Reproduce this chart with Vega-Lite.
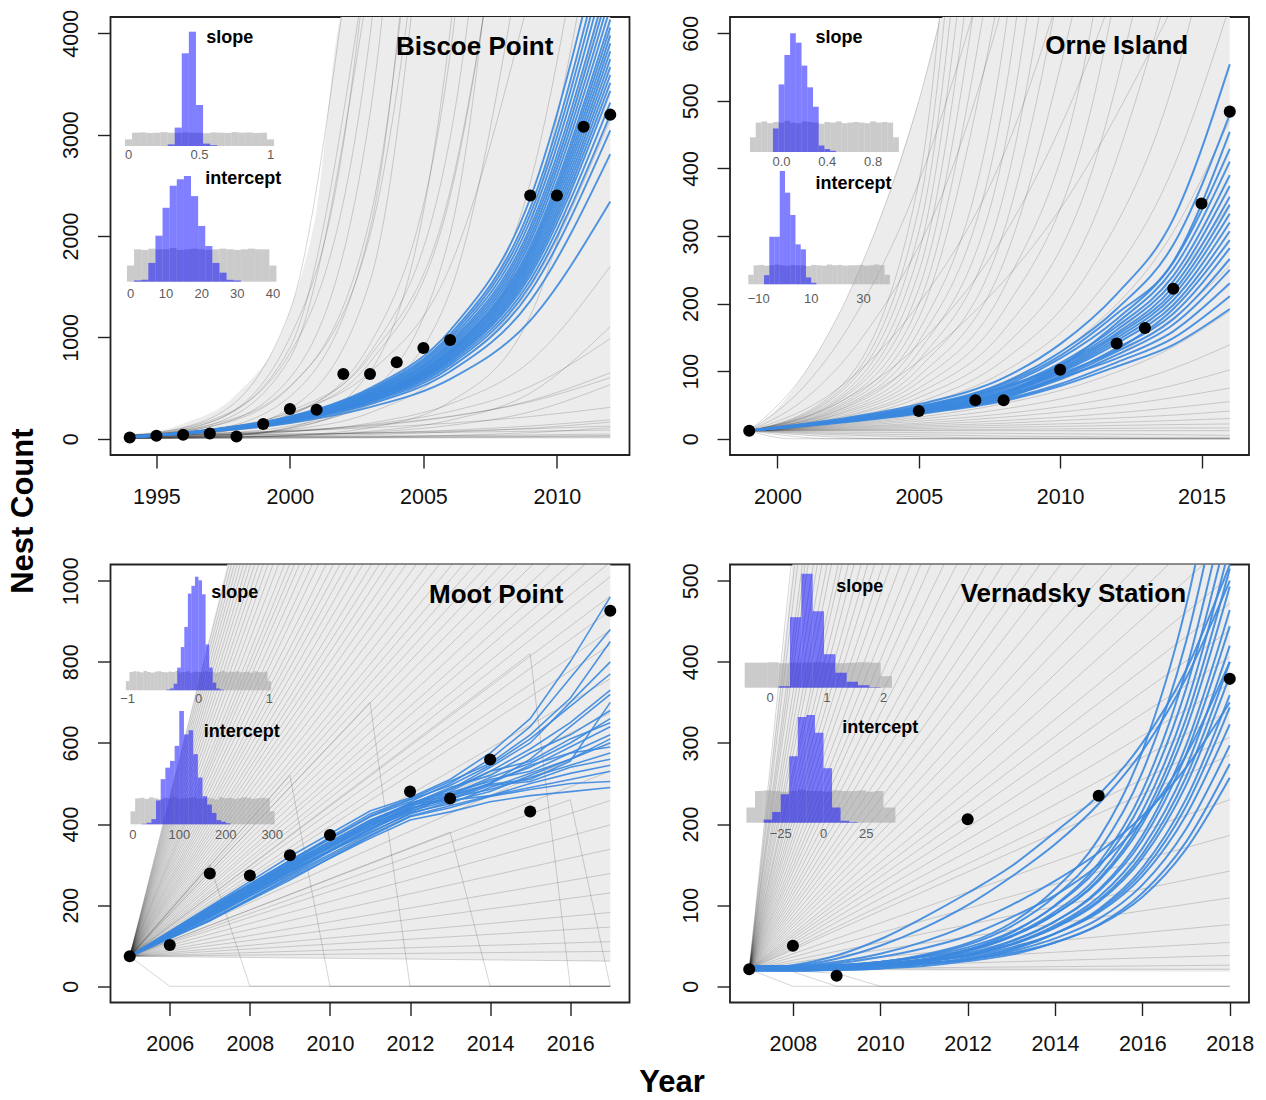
{
  "$schema": "https://vega.github.io/schema/vega-lite/v6.json",
  "background": "white",
  "padding": {"left": 7.5, "top": 8, "right": 5, "bottom": 5},
  "config": {
    "font": "Liberation Sans",
    "view": {"stroke": "#222222", "strokeWidth": 1.8},
    "axis": {"grid": false, "domain": false, "tickSize": 13, "tickWidth": 1.4, "tickColor": "#222222", "labelFont": "Liberation Sans", "labelFontSize": 21.5, "labelColor": "#111111", "labelFlush": false, "labelOverlap": false},
    "axisX": {"labelPadding": 18, "labelBaseline": "top", "labelAngle": 0},
    "axisY": {"labelAngle": -90, "labelAlign": "center", "labelBaseline": "alphabetic", "labelPadding": 20},
    "title": {"font": "Liberation Sans", "fontWeight": "bold", "fontSize": 31, "color": "#000000"}
  },
  "datasets": {
    "eB": [{"x":1994,"hi":20,"lo":0},{"x":1996,"hi":150,"lo":0},{"x":1998,"hi":440,"lo":0},{"x":2000,"hi":1260,"lo":0},{"x":2001,"hi":2250,"lo":0},{"x":2002,"hi":4200,"lo":0},{"x":2012,"hi":4200,"lo":0}],
    "eO": [{"x":1999,"hi":12,"lo":12},{"x":2000,"hi":45,"lo":8},{"x":2001,"hi":100,"lo":5},{"x":2002,"hi":170,"lo":3},{"x":2003,"hi":260,"lo":2},{"x":2004,"hi":370,"lo":1},{"x":2005,"hi":500,"lo":0},{"x":2006,"hi":630,"lo":0},{"x":2016,"hi":630,"lo":0}],
    "eM": [{"x":2005,"hi":74,"lo":74},{"x":2007.45,"hi":1045,"lo":72},{"x":2017,"hi":1045,"lo":62}],
    "eV": [{"x":2007,"hi":21,"lo":21},{"x":2007.5,"hi":270,"lo":20},{"x":2008,"hi":525,"lo":20},{"x":2018,"hi":525,"lo":18}],
    "lB": [
      {"s":"g","i":1,"x":[1994,1997,2000,2003,2006,2009,2012],"y":[20,21,22,23,24,26,27]},
      {"s":"g","i":2,"x":[1994,1997,2000,2003,2006,2009,2012],"y":[8,9,10,11,12,13,15]},
      {"s":"g","i":3,"x":[1994,1997,2000,2003,2006,2009,2012],"y":[35,41,47,55,64,74,86]},
      {"s":"g","i":4,"x":[1994,1997,2000,2003,2006,2009,2012],"y":[14,17,21,26,31,38,47]},
      {"s":"g","i":5,"x":[1994,1997,2000,2003,2006,2009,2012],"y":[28,36,46,59,76,98,126]},
      {"s":"g","i":6,"x":[1994,1997,2000,2003,2006,2009,2012],"y":[5,7,9,12,17,22,30]},
      {"s":"g","i":7,"x":[1994,1997,2000,2003,2006,2009,2012],"y":[38,54,77,109,154,219,310]},
      {"s":"g","i":8,"x":[1994,1997,2000,2003,2006,2009,2012],"y":[17,25,38,56,84,126,187]},
      {"s":"g","i":9,"x":[1994,1997,2000,2003,2006,2009,2012],"y":[11,17,27,42,67,104,164]},
      {"s":"g","i":10,"x":[1994,1997,2000,2003,2006,2009,2012],"y":[30,49,82,134,222,365,603]},
      {"s":"g","i":11,"x":[1994,1997,2000,2003,2006,2009,2012],"y":[24,42,72,125,217,375,651]},
      {"s":"g","i":12,"x":[1994,1997,2000,2003,2006,2009,2012],"y":[3,5,10,18,33,60,110]},
      {"s":"g","i":13,"x":[1994,1997,2000,2003,2006,2009,2012],"y":[20,38,73,141,269,516,988]},
      {"s":"g","i":14,"x":[1994,1997,2000,2003,2006,2009,2012],"y":[8,16,32,65,132,265,534]},
      {"s":"g","i":15,"x":[1994,1997,2000,2003,2006,2009,2012],"y":[35,74,157,332,703,1488,3151]},
      {"s":"g","i":16,"x":[1994,1997,2000,2003,2006,2009,2012],"y":[14,31,69,154,343,764,1701]},
      {"s":"g","i":17,"x":[1994,1997,2000,2003,2006,2009,2012],"y":[28,66,153,359,839,1963,4592]},
      {"s":"g","i":18,"x":[1994,1997,2000,2003,2006,2009,2012],"y":[5,12,30,74,183,450,1107]},
      {"s":"g","i":19,"x":[1994,1997,2000,2003,2006,2009],"y":[38,98,254,657,1699,4393]},
      {"s":"g","i":20,"x":[1994,1997,2000,2003,2006,2009,2012],"y":[17,46,126,342,928,2523,6858]},
      {"s":"g","i":21,"x":[1994,1997,2000,2003,2006,2009,2012],"y":[11,31,90,257,734,2097,5991]},
      {"s":"g","i":22,"x":[1994,1997,2000,2003,2006,2009],"y":[30,90,271,813,2444,7341]},
      {"s":"g","i":23,"x":[1994,1997,2000,2003,2006,2009],"y":[24,76,239,756,2388,7541]},
      {"s":"g","i":24,"x":[1994,1997,2000,2003,2006,2009,2012],"y":[3,10,33,110,365,1210,4018]},
      {"s":"g","i":25,"x":[1994,1997,2000,2003,2006,2009],"y":[20,70,244,850,2968,10360]},
      {"s":"g","i":26,"x":[1994,1997,2000,2003,2006,2009],"y":[8,29,108,395,1450,5321]},
      {"s":"g","i":27,"x":[1994,1997,2000,2003,2006],"y":[35,135,521,2009,7749]},
      {"s":"g","i":28,"x":[1994,1997,2000,2003,2006,2009],"y":[14,57,230,934,3786,15350]},
      {"s":"g","i":29,"x":[1994,1997,2000,2003,2006],"y":[28,119,509,2169,9248]},
      {"s":"g","i":30,"x":[1994,1997,2000,2003,2006,2009],"y":[5,22,100,450,2017,9040]},
      {"s":"g","i":31,"x":[1994,1997,2000,2003,2006],"y":[38,179,844,3975,18723]},
      {"s":"g","i":32,"x":[1994,1997,2000,2003,2006],"y":[17,84,417,2065,10231]},
      {"s":"g","i":33,"x":[1994,1997,2000,2003,2006],"y":[11,57,298,1553,8085]},
      {"s":"g","i":34,"x":[1994,1997,2000,2003],"y":[30,164,899,4920]},
      {"s":"g","i":35,"x":[1994,1997,2000,2003],"y":[24,138,795,4574]},
      {"s":"g","i":36,"x":[1994,1997,2000,2003,2006,2009],"y":[3,18,110,664,4018,24309]},
      {"s":"g","i":37,"x":[1994,1997,2000,2002],"y":[25,200,1260,4300]},
      {"s":"g","i":38,"x":[1994,1997,2000,2002,2003],"y":[20,160,1000,2900,5000]},
      {"s":"g","i":39,"x":[1994,1997,2000,2003,2005],"y":[30,120,600,3200,9000]},
      {"s":"b","i":101,"x":[1994,1997,2000,2003,2006,2009,2012],"y":[14,70,156,312,588,1166,2340]},
      {"s":"b","i":102,"x":[1994,1997,2000,2003,2006,2009,2012],"y":[22,73,166,341,664,1358,2808]},
      {"s":"b","i":103,"x":[1994,1997,2000,2003,2006,2009,2012],"y":[12,75,171,356,701,1451,3042]},
      {"s":"b","i":104,"x":[1994,1997,2000,2003,2006,2009,2012],"y":[20,76,175,366,727,1515,3198]},
      {"s":"b","i":105,"x":[1994,1997,2000,2003,2006,2009,2012],"y":[16,76,177,373,746,1562,3315]},
      {"s":"b","i":106,"x":[1994,1997,2000,2003,2006,2009,2012],"y":[25,77,180,380,764,1609,3432]},
      {"s":"b","i":107,"x":[1994,1997,2000,2003,2006,2009,2012],"y":[10,78,181,385,777,1642,3510]},
      {"s":"b","i":108,"x":[1994,1997,2000,2003,2006,2009,2012],"y":[19,78,183,390,790,1674,3588]},
      {"s":"b","i":109,"x":[1994,1997,2000,2003,2006,2009,2012],"y":[15,79,185,395,802,1705,3666]},
      {"s":"b","i":110,"x":[1994,1997,2000,2003,2006,2009,2012],"y":[23,79,187,400,815,1737,3744]},
      {"s":"b","i":111,"x":[1994,1997,2000,2003,2006,2009,2012],"y":[13,80,188,405,827,1768,3822]},
      {"s":"b","i":112,"x":[1994,1997,2000,2003,2006,2009,2012],"y":[18,80,190,410,840,1800,3900]},
      {"s":"b","i":113,"x":[1994,1997,2000,2003,2006,2009,2012],"y":[21,80,192,415,853,1832,3978]},
      {"s":"b","i":114,"x":[1994,1997,2000,2003,2006,2009,2012],"y":[11,81,193,420,865,1863,4056]},
      {"s":"b","i":115,"x":[1994,1997,2000,2003,2006,2009,2012],"y":[17,81,195,425,878,1895,4134]},
      {"s":"b","i":116,"x":[1994,1997,2000,2003,2006,2009,2012],"y":[24,82,198,432,897,1943,4251]},
      {"s":"b","i":117,"x":[1994,1997,2000,2003,2006,2009,2012],"y":[14,83,200,440,916,1990,4368]},
      {"s":"b","i":118,"x":[1994,1997,2000,2003,2006,2009,2012],"y":[20,84,203,447,935,2038,4485]},
      {"s":"b","i":119,"x":[1994,1997,2000,2003,2006,2009,2012],"y":[16,84,205,454,953,2085,4602]},
      {"s":"b","i":120,"x":[1994,1997,2000,2003,2006,2009,2012],"y":[22,85,209,464,979,2148,4758]},
      {"s":"b","i":121,"x":[1994,1997,2000,2003,2006,2009,2012],"y":[12,86,212,474,1004,2212,4914]},
      {"s":"b","i":122,"x":[1994,1997,2000,2003,2006,2009,2012],"y":[19,87,216,484,1029,2275,5070]},
      {"s":"b","i":123,"x":[1994,1997,2000,2003,2006,2009,2012],"y":[15,89,221,499,1067,2370,5304]}
    ],
    "lO": [
      {"s":"g","i":1,"x":[1999,2002,2005,2008,2011,2014,2016],"y":[12,12,12,12,12,12,12]},
      {"s":"g","i":2,"x":[1999,2002,2005,2008,2011,2014,2016],"y":[12,13,13,14,15,16,16]},
      {"s":"g","i":3,"x":[1999,2002,2005,2008,2011,2014,2016],"y":[12,13,15,17,19,21,22]},
      {"s":"g","i":4,"x":[1999,2002,2005,2008,2011,2014,2016],"y":[12,14,17,20,23,27,30]},
      {"s":"g","i":5,"x":[1999,2002,2005,2008,2011,2014,2016],"y":[12,15,19,23,29,35,41]},
      {"s":"g","i":6,"x":[1999,2002,2005,2008,2011,2014,2016],"y":[12,16,21,27,35,46,55]},
      {"s":"g","i":7,"x":[1999,2002,2005,2008,2011,2014,2016],"y":[12,17,23,32,44,61,75]},
      {"s":"g","i":8,"x":[1999,2002,2005,2008,2011,2014,2016],"y":[12,18,26,37,54,79,102]},
      {"s":"g","i":9,"x":[1999,2002,2005,2008,2011,2014,2016],"y":[12,19,29,44,68,104,139]},
      {"s":"g","i":10,"x":[1999,2002,2005,2008,2011,2014,2016],"y":[12,20,32,52,84,136,189]},
      {"s":"g","i":11,"x":[1999,2002,2005,2008,2011,2014,2016],"y":[12,21,35,61,104,179,256]},
      {"s":"g","i":12,"x":[1999,2002,2005,2008,2011,2014,2016],"y":[12,22,39,71,129,234,348]},
      {"s":"g","i":13,"x":[1999,2002,2005,2008,2011,2014,2016],"y":[12,23,44,84,160,306,472]},
      {"s":"g","i":14,"x":[1999,2002,2005,2008,2011,2014,2016],"y":[12,24,49,99,199,401,641]},
      {"s":"g","i":15,"x":[1999,2002,2005,2008,2011,2014,2016],"y":[12,26,54,116,247,526,870]},
      {"s":"g","i":16,"x":[1999,2002,2005,2008,2011,2014],"y":[12,27,61,136,306,689]},
      {"s":"g","i":17,"x":[1999,2002,2005,2008,2011,2014],"y":[12,29,68,160,380,902]},
      {"s":"g","i":18,"x":[1999,2002,2005,2008,2011,2014],"y":[12,30,75,189,472,1182]},
      {"s":"g","i":19,"x":[1999,2002,2005,2008,2011,2014],"y":[12,32,84,222,586,1548]},
      {"s":"g","i":20,"x":[1999,2002,2005,2008,2011],"y":[12,34,93,261,727]},
      {"s":"g","i":21,"x":[1999,2002,2005,2008,2011],"y":[12,35,104,306,902]},
      {"s":"g","i":22,"x":[1999,2002,2005,2008,2011],"y":[12,37,116,360,1120]},
      {"s":"g","i":23,"x":[1999,2002,2005,2008,2011],"y":[12,39,129,424,1390]},
      {"s":"g","i":24,"x":[1999,2002,2005,2008,2011],"y":[12,42,144,498,1725]},
      {"s":"g","i":25,"x":[1999,2002,2005,2008,2011],"y":[12,44,160,586,2141]},
      {"s":"g","i":26,"x":[1999,2002,2005,2008],"y":[12,46,179,689]},
      {"s":"g","i":27,"x":[1999,2002,2005,2008],"y":[12,49,199,810]},
      {"s":"g","i":28,"x":[1999,2002,2005,2008],"y":[12,52,222,953]},
      {"s":"g","i":29,"x":[1999,2002,2005,2008],"y":[12,54,247,1120]},
      {"s":"g","i":30,"x":[1999,2002,2005,2008],"y":[12,57,275,1317]},
      {"s":"g","i":31,"x":[1999,2002,2005,2008],"y":[12,61,306,1548]},
      {"s":"g","i":32,"x":[1999,2002,2005,2008],"y":[12,64,341,1820]},
      {"s":"g","i":33,"x":[1999,2002,2005,2008],"y":[12,68,380,2141]},
      {"s":"g","i":34,"x":[1999,2002,2005,2008,2011,2014,2016],"y":[12,10,9,8,7,6,5]},
      {"s":"g","i":35,"x":[1999,2002,2005,2008,2011,2014,2016],"y":[12,8,6,4,3,2,2]},
      {"s":"g","i":36,"x":[1999,2002,2005,2008,2011,2014,2016],"y":[12,6,3,1,1,0,0]},
      {"s":"g","i":37,"x":[1999,2000.5,2016],"y":[12,0,0]},
      {"s":"g","i":38,"x":[1999,2002,2016],"y":[12,0,0]},
      {"s":"g","i":39,"x":[1999,2004,2016],"y":[12,0,0]},
      {"s":"g","i":40,"x":[1999,2001,2003,2005,2007],"y":[12,100,260,500,850]},
      {"s":"g","i":41,"x":[1999,2001,2003,2005,2007],"y":[12,80,200,380,640]},
      {"s":"g","i":42,"x":[1999,2001,2003,2006,2009],"y":[12,60,150,380,800]},
      {"s":"g","i":43,"x":[1999,2002,2005,2008,2011],"y":[12,70,200,420,800]},
      {"s":"g","i":44,"x":[1999,2002,2005,2008,2011,2013],"y":[12,50,140,300,560,800]},
      {"s":"g","i":45,"x":[1999,2002,2006,2010,2014],"y":[12,40,150,340,640]},
      {"s":"b","i":101,"x":[1999,2002,2005,2008,2010,2012,2014,2016],"y":[12,23,37,56,78,107,139,192]},
      {"s":"b","i":102,"x":[1999,2002,2005,2008,2010,2012,2014,2016],"y":[12,24,38,58,81,113,149,211]},
      {"s":"b","i":103,"x":[1999,2002,2005,2008,2010,2012,2014,2016],"y":[12,24,39,60,90,119,159,230]},
      {"s":"b","i":104,"x":[1999,2002,2005,2008,2010,2012,2014,2016],"y":[12,24,39,61,88,124,169,250]},
      {"s":"b","i":105,"x":[1999,2002,2005,2008,2010,2012,2014,2016],"y":[12,24,40,63,91,129,177,266]},
      {"s":"b","i":106,"x":[1999,2002,2005,2008,2010,2012,2014,2016],"y":[12,25,41,64,93,134,185,282]},
      {"s":"b","i":107,"x":[1999,2002,2005,2008,2010,2012,2014,2016],"y":[12,25,41,66,96,132,192,294]},
      {"s":"b","i":108,"x":[1999,2002,2005,2008,2010,2012,2014,2016],"y":[12,25,42,67,98,141,198,307]},
      {"s":"b","i":109,"x":[1999,2002,2005,2008,2010,2012,2014,2016],"y":[12,25,42,68,100,145,205,320]},
      {"s":"b","i":110,"x":[1999,2002,2005,2008,2010,2012,2014,2016],"y":[12,25,43,69,102,149,212,333]},
      {"s":"b","i":111,"x":[1999,2002,2005,2008,2010,2012,2014,2016],"y":[12,25,43,70,104,153,218,346]},
      {"s":"b","i":112,"x":[1999,2002,2005,2008,2010,2012,2014,2016],"y":[12,26,44,68,107,156,225,358]},
      {"s":"b","i":113,"x":[1999,2002,2005,2008,2010,2012,2014,2016],"y":[12,26,44,73,109,161,233,374]},
      {"s":"b","i":114,"x":[1999,2002,2005,2008,2010,2012,2014,2016],"y":[12,26,45,75,112,166,241,390]},
      {"s":"b","i":115,"x":[1999,2002,2005,2008,2010,2012,2014,2016],"y":[12,26,46,77,108,171,251,410]},
      {"s":"b","i":116,"x":[1999,2002,2005,2008,2010,2012,2014,2016],"y":[12,26,46,78,119,177,261,429]},
      {"s":"b","i":117,"x":[1999,2002,2005,2008,2010,2012,2014,2016],"y":[12,27,47,81,123,185,262,454]},
      {"s":"b","i":118,"x":[1999,2002,2005,2008,2010,2012,2014,2016],"y":[12,27,48,83,128,192,287,480]},
      {"s":"b","i":119,"x":[1999,2002,2005,2008,2010,2012,2014,2016],"y":[12,28,51,90,140,214,325,554]}
    ],
    "lM": [
      {"s":"g","i":1,"x":[2005,2017],"y":[74,4754]},
      {"s":"g","i":2,"x":[2005,2017],"y":[74,4514]},
      {"s":"g","i":3,"x":[2005,2017],"y":[74,4274]},
      {"s":"g","i":4,"x":[2005,2017],"y":[74,4034]},
      {"s":"g","i":5,"x":[2005,2017],"y":[74,3794]},
      {"s":"g","i":6,"x":[2005,2017],"y":[74,3554]},
      {"s":"g","i":7,"x":[2005,2017],"y":[74,3314]},
      {"s":"g","i":8,"x":[2005,2017],"y":[74,3074]},
      {"s":"g","i":9,"x":[2005,2017],"y":[74,2894]},
      {"s":"g","i":10,"x":[2005,2017],"y":[74,2714]},
      {"s":"g","i":11,"x":[2005,2017],"y":[74,2534]},
      {"s":"g","i":12,"x":[2005,2017],"y":[74,2354]},
      {"s":"g","i":13,"x":[2005,2017],"y":[74,2210]},
      {"s":"g","i":14,"x":[2005,2017],"y":[74,2066]},
      {"s":"g","i":15,"x":[2005,2017],"y":[74,1934]},
      {"s":"g","i":16,"x":[2005,2017],"y":[74,1814]},
      {"s":"g","i":17,"x":[2005,2017],"y":[74,1694]},
      {"s":"g","i":18,"x":[2005,2017],"y":[74,1574]},
      {"s":"g","i":19,"x":[2005,2017],"y":[74,1466]},
      {"s":"g","i":20,"x":[2005,2017],"y":[74,1370]},
      {"s":"g","i":21,"x":[2005,2017],"y":[74,1274]},
      {"s":"g","i":22,"x":[2005,2017],"y":[74,1178]},
      {"s":"g","i":23,"x":[2005,2017],"y":[74,1094]},
      {"s":"g","i":24,"x":[2005,2017],"y":[74,1010]},
      {"s":"g","i":25,"x":[2005,2017],"y":[74,926]},
      {"s":"g","i":26,"x":[2005,2017],"y":[74,842]},
      {"s":"g","i":27,"x":[2005,2017],"y":[74,758]},
      {"s":"g","i":28,"x":[2005,2017],"y":[74,674]},
      {"s":"g","i":29,"x":[2005,2017],"y":[74,602]},
      {"s":"g","i":30,"x":[2005,2017],"y":[74,530]},
      {"s":"g","i":31,"x":[2005,2017],"y":[74,458]},
      {"s":"g","i":32,"x":[2005,2017],"y":[74,398]},
      {"s":"g","i":33,"x":[2005,2017],"y":[74,338]},
      {"s":"g","i":34,"x":[2005,2017],"y":[74,278]},
      {"s":"g","i":35,"x":[2005,2017],"y":[74,230]},
      {"s":"g","i":36,"x":[2005,2017],"y":[74,182]},
      {"s":"g","i":37,"x":[2005,2017],"y":[74,146]},
      {"s":"g","i":38,"x":[2005,2017],"y":[74,110]},
      {"s":"g","i":39,"x":[2005,2017],"y":[74,86]},
      {"s":"g","i":40,"x":[2005,2017],"y":[74,62]},
      {"s":"g","i":41,"x":[2005,2006,2017],"y":[74,0,0]},
      {"s":"g","i":42,"x":[2005,2007,2008,2017],"y":[74,300,0,0]},
      {"s":"g","i":43,"x":[2005,2009,2010,2017],"y":[74,520,0,0]},
      {"s":"g","i":44,"x":[2005,2011,2012,2017],"y":[74,700,0,0]},
      {"s":"g","i":45,"x":[2005,2013,2014,2017],"y":[74,380,0,0]},
      {"s":"g","i":46,"x":[2005,2015,2016,2017],"y":[74,820,0,0]},
      {"s":"g","i":47,"x":[2005,2016,2017],"y":[74,460,0]},
      {"s":"g","i":48,"x":[2005,2017],"y":[74,4634]},
      {"s":"g","i":49,"x":[2005,2017],"y":[74,4394]},
      {"s":"g","i":50,"x":[2005,2017],"y":[74,4154]},
      {"s":"g","i":51,"x":[2005,2017],"y":[74,3914]},
      {"s":"g","i":52,"x":[2005,2017],"y":[74,3674]},
      {"s":"g","i":53,"x":[2005,2017],"y":[74,3434]},
      {"s":"g","i":54,"x":[2005,2017],"y":[74,3194]},
      {"s":"g","i":55,"x":[2005,2017],"y":[74,2978]},
      {"s":"g","i":56,"x":[2005,2017],"y":[74,2810]},
      {"s":"g","i":57,"x":[2005,2017],"y":[74,2618]},
      {"s":"g","i":58,"x":[2005,2017],"y":[74,2438]},
      {"s":"g","i":59,"x":[2005,2017],"y":[74,2282]},
      {"s":"g","i":60,"x":[2005,2017],"y":[74,2138]},
      {"s":"g","i":61,"x":[2005,2017],"y":[74,1994]},
      {"s":"g","i":62,"x":[2005,2017],"y":[74,1874]},
      {"s":"g","i":63,"x":[2005,2017],"y":[74,1754]},
      {"s":"g","i":64,"x":[2005,2017],"y":[74,1634]},
      {"s":"g","i":65,"x":[2005,2017],"y":[74,1514]},
      {"s":"g","i":66,"x":[2005,2017],"y":[74,1418]},
      {"s":"g","i":67,"x":[2005,2017],"y":[74,1322]},
      {"s":"g","i":68,"x":[2005,2017],"y":[74,1226]},
      {"s":"g","i":69,"x":[2005,2017],"y":[74,1130]},
      {"s":"g","i":70,"x":[2005,2017],"y":[74,1046]},
      {"s":"g","i":71,"x":[2005,2017],"y":[74,962]},
      {"s":"g","i":72,"x":[2005,2017],"y":[74,878]},
      {"s":"b","i":101,"x":[2005,2007,2009,2011,2012,2013,2014,2015,2016,2017],"y":[74,173,280,388,430,470,500,560,640,720]},
      {"s":"b","i":102,"x":[2005,2007,2009,2011,2012,2013,2014,2015,2016,2017],"y":[74,185,300,402,450,485,540,600,700,800]},
      {"s":"b","i":103,"x":[2005,2007,2009,2011,2012,2013,2014,2015,2016,2017],"y":[74,161,270,372,420,445,470,490,510,530]},
      {"s":"b","i":104,"x":[2005,2007,2009,2011,2012,2013,2014,2015,2016,2017],"y":[74,191,310,418,455,500,560,640,760,880]},
      {"s":"b","i":105,"x":[2005,2007,2009,2011,2012,2013,2014,2015,2016,2017],"y":[74,177,286,380,425,455,480,520,560,600]},
      {"s":"b","i":106,"x":[2005,2007,2009,2011,2012,2013,2014,2015,2016,2017],"y":[74,181,294,395,445,470,510,530,575,620]},
      {"s":"b","i":107,"x":[2005,2007,2009,2011,2012,2013,2014,2015,2016,2017],"y":[74,171,276,388,440,460,495,505,540,560]},
      {"s":"b","i":108,"x":[2005,2007,2009,2011,2012,2013,2014,2015,2016,2017],"y":[74,197,320,432,465,510,575,660,800,960]},
      {"s":"b","i":109,"x":[2005,2007,2009,2011,2012,2013,2014,2015,2016,2017],"y":[74,165,266,365,410,430,455,470,480,490]},
      {"s":"b","i":110,"x":[2005,2007,2009,2011,2012,2013,2014,2015,2016,2017],"y":[74,187,302,410,448,490,520,575,620,680]},
      {"s":"b","i":111,"x":[2005,2007,2009,2011,2012,2013,2014,2015,2016,2017],"y":[74,179,290,400,438,465,485,515,545,575]},
      {"s":"b","i":112,"x":[2005,2007,2009,2011,2012,2013,2014,2015,2016,2017],"y":[74,175,282,384,435,480,530,585,650,730]},
      {"s":"b","i":113,"x":[2005,2007,2009,2011,2012,2013,2014,2015,2016,2017],"y":[74,183,298,405,452,478,505,540,590,640]},
      {"s":"b","i":114,"x":[2005,2007,2009,2011,2012,2013,2014,2015,2016,2017],"y":[74,169,274,377,428,450,490,525,560,610]},
      {"s":"b","i":115,"x":[2005,2007,2009,2011,2012,2013,2014,2015,2016,2017],"y":[74,193,306,420,460,495,545,610,690,770]},
      {"s":"b","i":116,"x":[2005,2007,2009,2011,2012,2013,2014,2015,2016,2017],"y":[74,173,284,390,432,458,470,500,525,545]},
      {"s":"b","i":117,"x":[2005,2007,2009,2011,2012,2013,2014,2015,2016,2017],"y":[74,189,304,408,450,472,515,550,600,660]},
      {"s":"b","i":118,"x":[2005,2007,2009,2011,2012,2013,2014,2015,2016,2017],"y":[74,163,262,370,418,440,468,485,500,505]},
      {"s":"b","i":119,"x":[2005,2007,2009,2011,2012,2013,2014,2015,2016,2017],"y":[74,181,292,396,442,485,530,555,610,650]},
      {"s":"b","i":120,"x":[2005,2007,2009,2011,2012,2013,2014,2015,2016,2017],"y":[74,185,296,402,447,462,500,545,575,590]},
      {"s":"b","i":121,"x":[2005,2007,2009,2011,2012,2013,2014,2015,2016,2017],"y":[74,177,288,394,436,468,498,510,555,700]},
      {"s":"b","i":122,"x":[2005,2007,2009,2011,2012,2013,2014,2015,2016,2017],"y":[74,195,310,425,462,505,550,620,710,850]}
    ],
    "lV": [
      {"s":"g","i":1,"x":[2007,2018],"y":[21,5741]},
      {"s":"g","i":2,"x":[2007,2018],"y":[21,4971]},
      {"s":"g","i":3,"x":[2007,2018],"y":[21,4311]},
      {"s":"g","i":4,"x":[2007,2018],"y":[21,3761]},
      {"s":"g","i":5,"x":[2007,2018],"y":[21,3321]},
      {"s":"g","i":6,"x":[2007,2018],"y":[21,2936]},
      {"s":"g","i":7,"x":[2007,2018],"y":[21,2606]},
      {"s":"g","i":8,"x":[2007,2018],"y":[21,2309]},
      {"s":"g","i":9,"x":[2007,2018],"y":[21,2045]},
      {"s":"g","i":10,"x":[2007,2018],"y":[21,1814]},
      {"s":"g","i":11,"x":[2007,2018],"y":[21,1605]},
      {"s":"g","i":12,"x":[2007,2018],"y":[21,1418]},
      {"s":"g","i":13,"x":[2007,2018],"y":[21,1253]},
      {"s":"g","i":14,"x":[2007,2018],"y":[21,1099]},
      {"s":"g","i":15,"x":[2007,2018],"y":[21,967]},
      {"s":"g","i":16,"x":[2007,2018],"y":[21,846]},
      {"s":"g","i":17,"x":[2007,2018],"y":[21,736]},
      {"s":"g","i":18,"x":[2007,2018],"y":[21,637]},
      {"s":"g","i":19,"x":[2007,2018],"y":[21,549]},
      {"s":"g","i":20,"x":[2007,2018],"y":[21,472]},
      {"s":"g","i":21,"x":[2007,2018],"y":[21,406]},
      {"s":"g","i":22,"x":[2007,2018],"y":[21,340]},
      {"s":"g","i":23,"x":[2007,2018],"y":[21,285]},
      {"s":"g","i":24,"x":[2007,2018],"y":[21,230]},
      {"s":"g","i":25,"x":[2007,2018],"y":[21,186]},
      {"s":"g","i":26,"x":[2007,2018],"y":[21,142]},
      {"s":"g","i":27,"x":[2007,2018],"y":[21,109]},
      {"s":"g","i":28,"x":[2007,2018],"y":[21,76]},
      {"s":"g","i":29,"x":[2007,2018],"y":[21,54]},
      {"s":"g","i":30,"x":[2007,2018],"y":[21,38]},
      {"s":"g","i":31,"x":[2007,2018],"y":[21,26]},
      {"s":"g","i":32,"x":[2007,2018],"y":[21,21]},
      {"s":"g","i":33,"x":[2007,2008,2018],"y":[21,0,0]},
      {"s":"g","i":34,"x":[2007,2008,2009,2018],"y":[21,18,0,0]},
      {"s":"g","i":35,"x":[2007,2008,2009,2010,2018],"y":[21,19,16,0,0]},
      {"s":"g","i":36,"x":[2007,2018],"y":[21,5301]},
      {"s":"g","i":37,"x":[2007,2018],"y":[21,4531]},
      {"s":"g","i":38,"x":[2007,2018],"y":[21,4091]},
      {"s":"g","i":39,"x":[2007,2018],"y":[21,3541]},
      {"s":"g","i":40,"x":[2007,2018],"y":[21,3101]},
      {"s":"g","i":41,"x":[2007,2018],"y":[21,2716]},
      {"s":"g","i":42,"x":[2007,2018],"y":[21,2441]},
      {"s":"g","i":43,"x":[2007,2018],"y":[21,2166]},
      {"s":"g","i":44,"x":[2007,2018],"y":[21,1935]},
      {"s":"g","i":45,"x":[2007,2018],"y":[21,1715]},
      {"s":"g","i":46,"x":[2007,2018],"y":[21,1506]},
      {"s":"g","i":47,"x":[2007,2018],"y":[21,1341]},
      {"s":"g","i":48,"x":[2007,2018],"y":[21,1176]},
      {"s":"g","i":49,"x":[2007,2018],"y":[21,1033]},
      {"s":"g","i":50,"x":[2007,2018],"y":[21,901]},
      {"s":"g","i":51,"x":[2007,2018],"y":[21,791]},
      {"s":"g","i":52,"x":[2007,2018],"y":[21,681]},
      {"s":"g","i":53,"x":[2007,2018],"y":[21,593]},
      {"s":"g","i":54,"x":[2007,2018],"y":[21,505]},
      {"s":"g","i":55,"x":[2007,2018],"y":[21,439]},
      {"s":"g","i":56,"x":[2007,2018],"y":[21,373]},
      {"s":"g","i":57,"x":[2007,2018],"y":[21,307]},
      {"s":"b","i":101,"x":[2007,2008,2009,2010,2011,2012,2013,2014,2015,2016,2017,2018],"y":[23,23,23,25,28,33,41,54,75,110,169,257]},
      {"s":"b","i":102,"x":[2007,2008,2009,2010,2011,2012,2013,2014,2015,2016,2017,2018],"y":[20,20,20,22,25,31,39,54,76,115,178,274]},
      {"s":"b","i":103,"x":[2007,2008,2009,2010,2011,2012,2013,2014,2015,2016,2017,2018],"y":[22,22,22,25,28,33,43,59,83,125,194,297]},
      {"s":"b","i":104,"x":[2007,2008,2009,2010,2011,2012,2013,2014,2015,2016,2017,2018],"y":[25,25,26,28,32,37,48,65,91,136,211,323]},
      {"s":"b","i":105,"x":[2007,2008,2009,2010,2011,2012,2013,2014,2015,2016,2017,2018],"y":[21,21,22,24,28,35,46,65,93,141,222,344]},
      {"s":"b","i":106,"x":[2007,2008,2009,2010,2011,2012,2013,2014,2015,2016,2017,2018],"y":[19,19,20,22,27,33,45,65,95,146,231,359]},
      {"s":"b","i":107,"x":[2007,2008,2009,2010,2011,2012,2013,2014,2015,2016,2017,2018],"y":[24,24,25,28,32,39,52,72,104,158,248,383]},
      {"s":"b","i":108,"x":[2007,2008,2009,2010,2011,2012,2013,2014,2015,2016,2017,2018],"y":[22,22,23,26,31,38,51,73,106,163,258,400]},
      {"s":"b","i":109,"x":[2007,2008,2009,2010,2011,2012,2013,2014,2015,2016,2017,2018],"y":[21,21,22,25,30,38,52,75,110,170,270,420]},
      {"s":"b","i":110,"x":[2007,2008,2009,2010,2011,2012,2013,2014,2015,2016,2017,2018],"y":[23,23,24,27,33,41,56,80,117,180,286,444]},
      {"s":"b","i":111,"x":[2007,2008,2009,2010,2011,2012,2013,2014,2015,2016,2017,2018],"y":[20,20,21,25,30,39,55,80,119,186,297,464]},
      {"s":"b","i":112,"x":[2007,2008,2009,2010,2011,2012,2013,2014,2015,2016,2017,2018],"y":[25,25,26,30,36,45,62,89,130,200,317,493]},
      {"s":"b","i":113,"x":[2007,2008,2009,2010,2011,2012,2013,2014,2015,2016,2017,2018],"y":[22,22,24,27,33,43,61,89,132,206,330,515]},
      {"s":"b","i":114,"x":[2007,2008,2009,2010,2011,2012,2013,2014,2015,2016,2017,2018],"y":[21,21,23,27,33,44,62,92,137,216,346,542]},
      {"s":"b","i":115,"x":[2007,2008,2009,2010,2011,2012,2013,2014,2015,2016,2017,2018],"y":[24,24,26,30,37,48,67,99,147,229,367,573]},
      {"s":"b","i":116,"x":[2007,2008,2009,2010,2011,2012,2013,2014,2015,2016,2017,2018],"y":[19,19,21,25,33,45,66,100,152,241,390,614]},
      {"s":"b","i":117,"x":[2007,2008,2009,2010,2011,2012,2013,2014,2015,2016,2017,2018],"y":[24,24,25,30,38,51,74,111,167,264,425,667]},
      {"s":"b","i":118,"x":[2007,2008,2009,2010,2011,2012,2013,2014,2015,2016,2017,2018],"y":[23,23,25,30,39,53,78,120,182,290,469,738]},
      {"s":"b","i":119,"x":[2007,2008,2009,2010,2011,2012,2013,2014,2015,2016,2017,2018],"y":[21,24,30,40,55,75,100,130,165,210,270,350]},
      {"s":"b","i":120,"x":[2007,2008,2009,2010,2011,2012,2013,2014,2015,2016,2017,2018],"y":[21,25,34,50,72,100,135,175,225,290,380,500]},
      {"s":"b","i":121,"x":[2007,2008,2009,2010,2011,2012,2013,2014,2015,2016,2017,2018],"y":[21,23,28,36,47,62,85,112,150,205,285,400]},
      {"s":"b","i":122,"x":[2007,2008,2009,2010,2011,2012,2013,2014,2015,2016,2017,2018],"y":[21,26,38,58,85,115,148,190,236,300,390,520]}
    ],
    "pB": [{"x":1994,"y":13},{"x":1995,"y":30},{"x":1996,"y":40},{"x":1997,"y":53},{"x":1998,"y":23},{"x":1999,"y":145},{"x":2000,"y":293},{"x":2001,"y":286},{"x":2002,"y":639},{"x":2003,"y":639},{"x":2004,"y":754},{"x":2005,"y":895},{"x":2006,"y":974},{"x":2009,"y":2400},{"x":2010,"y":2400},{"x":2011,"y":3078},{"x":2012,"y":3197}],
    "pO": [{"x":1999,"y":12},{"x":2005,"y":41},{"x":2007,"y":57},{"x":2008,"y":57},{"x":2010,"y":102},{"x":2012,"y":141},{"x":2013,"y":164},{"x":2014,"y":222},{"x":2015,"y":348},{"x":2016,"y":484}],
    "pM": [{"x":2005,"y":74},{"x":2006,"y":102},{"x":2007,"y":278},{"x":2008,"y":273},{"x":2009,"y":323},{"x":2010,"y":373},{"x":2012,"y":480},{"x":2013,"y":463},{"x":2014,"y":559},{"x":2015,"y":431},{"x":2017,"y":926}],
    "pV": [{"x":2007,"y":21},{"x":2008,"y":50},{"x":2009,"y":13},{"x":2012,"y":206},{"x":2015,"y":235},{"x":2018,"y":379}],
    "hB1": [
      {"k":"p","a":-0.025,"b":0.025,"n":25},{"k":"p","a":0.025,"b":0.075,"n":50},{"k":"p","a":0.075,"b":0.125,"n":51},{"k":"p","a":0.125,"b":0.175,"n":49},{"k":"p","a":0.175,"b":0.225,"n":50},{"k":"p","a":0.225,"b":0.275,"n":52},{"k":"p","a":0.275,"b":0.325,"n":50},{"k":"p","a":0.325,"b":0.375,"n":49},{"k":"p","a":0.375,"b":0.425,"n":51},{"k":"p","a":0.425,"b":0.475,"n":50},{"k":"p","a":0.475,"b":0.525,"n":50},{"k":"p","a":0.525,"b":0.575,"n":48},{"k":"p","a":0.575,"b":0.625,"n":51},{"k":"p","a":0.625,"b":0.675,"n":50},{"k":"p","a":0.675,"b":0.725,"n":49},{"k":"p","a":0.725,"b":0.775,"n":52},{"k":"p","a":0.775,"b":0.825,"n":50},{"k":"p","a":0.825,"b":0.875,"n":51},{"k":"p","a":0.875,"b":0.925,"n":49},{"k":"p","a":0.925,"b":0.975,"n":50},{"k":"p","a":0.975,"b":1.025,"n":25},
      {"k":"q","a":0.275,"b":0.325,"n":6},{"k":"q","a":0.325,"b":0.375,"n":69},{"k":"q","a":0.375,"b":0.425,"n":348},{"k":"q","a":0.425,"b":0.475,"n":429},{"k":"q","a":0.475,"b":0.525,"n":154},{"k":"q","a":0.525,"b":0.575,"n":9},{"k":"q","a":0.575,"b":0.625,"n":3}
    ],
    "hB2": [
      {"k":"p","a":-1,"b":1,"n":25},{"k":"p","a":1,"b":3,"n":50},{"k":"p","a":3,"b":5,"n":49},{"k":"p","a":5,"b":7,"n":51},{"k":"p","a":7,"b":9,"n":50},{"k":"p","a":9,"b":11,"n":50},{"k":"p","a":11,"b":13,"n":52},{"k":"p","a":13,"b":15,"n":49},{"k":"p","a":15,"b":17,"n":50},{"k":"p","a":17,"b":19,"n":51},{"k":"p","a":19,"b":21,"n":50},{"k":"p","a":21,"b":23,"n":49},{"k":"p","a":23,"b":25,"n":50},{"k":"p","a":25,"b":27,"n":51},{"k":"p","a":27,"b":29,"n":50},{"k":"p","a":29,"b":31,"n":49},{"k":"p","a":31,"b":33,"n":50},{"k":"p","a":33,"b":35,"n":51},{"k":"p","a":35,"b":37,"n":50},{"k":"p","a":37,"b":39,"n":50},{"k":"p","a":39,"b":41,"n":25},
      {"k":"q","a":1,"b":3,"n":2},{"k":"q","a":3,"b":5,"n":3},{"k":"q","a":5,"b":7,"n":29},{"k":"q","a":7,"b":9,"n":71},{"k":"q","a":9,"b":11,"n":114},{"k":"q","a":11,"b":13,"n":148},{"k":"q","a":13,"b":15,"n":158},{"k":"q","a":15,"b":17,"n":163},{"k":"q","a":17,"b":19,"n":132},{"k":"q","a":19,"b":21,"n":86},{"k":"q","a":21,"b":23,"n":55},{"k":"q","a":23,"b":25,"n":29},{"k":"q","a":25,"b":27,"n":14},{"k":"q","a":27,"b":29,"n":3},{"k":"q","a":29,"b":31,"n":2}
    ],
    "hO1": [
      {"k":"p","a":-0.275,"b":-0.225,"n":25},{"k":"p","a":-0.225,"b":-0.175,"n":50},{"k":"p","a":-0.175,"b":-0.125,"n":52},{"k":"p","a":-0.125,"b":-0.075,"n":49},{"k":"p","a":-0.075,"b":-0.025,"n":51},{"k":"p","a":-0.025,"b":0.025,"n":50},{"k":"p","a":0.025,"b":0.075,"n":53},{"k":"p","a":0.075,"b":0.125,"n":50},{"k":"p","a":0.125,"b":0.175,"n":49},{"k":"p","a":0.175,"b":0.225,"n":52},{"k":"p","a":0.225,"b":0.275,"n":51},{"k":"p","a":0.275,"b":0.325,"n":50},{"k":"p","a":0.325,"b":0.375,"n":48},{"k":"p","a":0.375,"b":0.425,"n":51},{"k":"p","a":0.425,"b":0.475,"n":50},{"k":"p","a":0.475,"b":0.525,"n":52},{"k":"p","a":0.525,"b":0.575,"n":49},{"k":"p","a":0.575,"b":0.625,"n":50},{"k":"p","a":0.625,"b":0.675,"n":51},{"k":"p","a":0.675,"b":0.725,"n":50},{"k":"p","a":0.725,"b":0.775,"n":49},{"k":"p","a":0.775,"b":0.825,"n":52},{"k":"p","a":0.825,"b":0.875,"n":50},{"k":"p","a":0.875,"b":0.925,"n":51},{"k":"p","a":0.925,"b":0.975,"n":50},{"k":"p","a":0.975,"b":1.025,"n":25},
      {"k":"q","a":-0.075,"b":-0.025,"n":40},{"k":"q","a":-0.025,"b":0.025,"n":115},{"k":"q","a":0.025,"b":0.075,"n":165},{"k":"q","a":0.075,"b":0.125,"n":202},{"k":"q","a":0.125,"b":0.175,"n":186},{"k":"q","a":0.175,"b":0.225,"n":147},{"k":"q","a":0.225,"b":0.275,"n":110},{"k":"q","a":0.275,"b":0.325,"n":77},{"k":"q","a":0.325,"b":0.375,"n":11},{"k":"q","a":0.375,"b":0.425,"n":5},{"k":"q","a":0.425,"b":0.475,"n":2}
    ],
    "hO2": [
      {"k":"p","a":-14,"b":-12,"n":25},{"k":"p","a":-12,"b":-10,"n":50},{"k":"p","a":-10,"b":-8,"n":51},{"k":"p","a":-8,"b":-6,"n":49},{"k":"p","a":-6,"b":-4,"n":50},{"k":"p","a":-4,"b":-2,"n":52},{"k":"p","a":-2,"b":0,"n":50},{"k":"p","a":0,"b":2,"n":49},{"k":"p","a":2,"b":4,"n":51},{"k":"p","a":4,"b":6,"n":50},{"k":"p","a":6,"b":8,"n":50},{"k":"p","a":8,"b":10,"n":48},{"k":"p","a":10,"b":12,"n":51},{"k":"p","a":12,"b":14,"n":50},{"k":"p","a":14,"b":16,"n":49},{"k":"p","a":16,"b":18,"n":52},{"k":"p","a":18,"b":20,"n":50},{"k":"p","a":20,"b":22,"n":51},{"k":"p","a":22,"b":24,"n":49},{"k":"p","a":24,"b":26,"n":50},{"k":"p","a":26,"b":28,"n":50},{"k":"p","a":28,"b":30,"n":51},{"k":"p","a":30,"b":32,"n":49},{"k":"p","a":32,"b":34,"n":50},{"k":"p","a":34,"b":36,"n":52},{"k":"p","a":36,"b":38,"n":50},{"k":"p","a":38,"b":40,"n":25},
      {"k":"q","a":-8,"b":-6,"n":24},{"k":"q","a":-6,"b":-4,"n":125},{"k":"q","a":-4,"b":-2,"n":125},{"k":"q","a":-2,"b":0,"n":298},{"k":"q","a":0,"b":2,"n":241},{"k":"q","a":2,"b":4,"n":182},{"k":"q","a":4,"b":6,"n":105},{"k":"q","a":6,"b":8,"n":92},{"k":"q","a":8,"b":10,"n":18},{"k":"q","a":10,"b":12,"n":4}
    ],
    "hM1": [
      {"k":"p","a":-1.025,"b":-0.975,"n":25},{"k":"p","a":-0.975,"b":-0.925,"n":50},{"k":"p","a":-0.925,"b":-0.875,"n":52},{"k":"p","a":-0.875,"b":-0.825,"n":51},{"k":"p","a":-0.825,"b":-0.775,"n":49},{"k":"p","a":-0.775,"b":-0.725,"n":53},{"k":"p","a":-0.725,"b":-0.675,"n":50},{"k":"p","a":-0.675,"b":-0.625,"n":48},{"k":"p","a":-0.625,"b":-0.575,"n":51},{"k":"p","a":-0.575,"b":-0.525,"n":52},{"k":"p","a":-0.525,"b":-0.475,"n":50},{"k":"p","a":-0.475,"b":-0.425,"n":49},{"k":"p","a":-0.425,"b":-0.375,"n":51},{"k":"p","a":-0.375,"b":-0.325,"n":50},{"k":"p","a":-0.325,"b":-0.275,"n":53},{"k":"p","a":-0.275,"b":-0.225,"n":49},{"k":"p","a":-0.225,"b":-0.175,"n":50},{"k":"p","a":-0.175,"b":-0.125,"n":52},{"k":"p","a":-0.125,"b":-0.075,"n":48},{"k":"p","a":-0.075,"b":-0.025,"n":51},{"k":"p","a":-0.025,"b":0.025,"n":50},{"k":"p","a":0.025,"b":0.075,"n":49},{"k":"p","a":0.075,"b":0.125,"n":52},{"k":"p","a":0.125,"b":0.175,"n":50},{"k":"p","a":0.175,"b":0.225,"n":51},{"k":"p","a":0.225,"b":0.275,"n":48},{"k":"p","a":0.275,"b":0.325,"n":50},{"k":"p","a":0.325,"b":0.375,"n":53},{"k":"p","a":0.375,"b":0.425,"n":49},{"k":"p","a":0.425,"b":0.475,"n":51},{"k":"p","a":0.475,"b":0.525,"n":50},{"k":"p","a":0.525,"b":0.575,"n":52},{"k":"p","a":0.575,"b":0.625,"n":49},{"k":"p","a":0.625,"b":0.675,"n":50},{"k":"p","a":0.675,"b":0.725,"n":51},{"k":"p","a":0.725,"b":0.775,"n":48},{"k":"p","a":0.775,"b":0.825,"n":52},{"k":"p","a":0.825,"b":0.875,"n":50},{"k":"p","a":0.875,"b":0.925,"n":49},{"k":"p","a":0.925,"b":0.975,"n":51},{"k":"p","a":0.975,"b":1.025,"n":25},
      {"k":"q","a":-0.45,"b":-0.4,"n":2},{"k":"q","a":-0.4,"b":-0.35,"n":5},{"k":"q","a":-0.35,"b":-0.3,"n":18},{"k":"q","a":-0.3,"b":-0.25,"n":62},{"k":"q","a":-0.25,"b":-0.2,"n":118},{"k":"q","a":-0.2,"b":-0.15,"n":173},{"k":"q","a":-0.15,"b":-0.1,"n":264},{"k":"q","a":-0.1,"b":-0.05,"n":285},{"k":"q","a":-0.05,"b":0,"n":310},{"k":"q","a":0,"b":0.05,"n":300},{"k":"q","a":0.05,"b":0.1,"n":262},{"k":"q","a":0.1,"b":0.15,"n":125},{"k":"q","a":0.15,"b":0.2,"n":62},{"k":"q","a":0.2,"b":0.25,"n":21},{"k":"q","a":0.25,"b":0.3,"n":5},{"k":"q","a":0.3,"b":0.35,"n":2}
    ],
    "hM2": [
      {"k":"p","a":-5,"b":5,"n":25},{"k":"p","a":5,"b":15,"n":50},{"k":"p","a":15,"b":25,"n":51},{"k":"p","a":25,"b":35,"n":49},{"k":"p","a":35,"b":45,"n":52},{"k":"p","a":45,"b":55,"n":50},{"k":"p","a":55,"b":65,"n":48},{"k":"p","a":65,"b":75,"n":51},{"k":"p","a":75,"b":85,"n":50},{"k":"p","a":85,"b":95,"n":53},{"k":"p","a":95,"b":105,"n":49},{"k":"p","a":105,"b":115,"n":50},{"k":"p","a":115,"b":125,"n":51},{"k":"p","a":125,"b":135,"n":52},{"k":"p","a":135,"b":145,"n":50},{"k":"p","a":145,"b":155,"n":49},{"k":"p","a":155,"b":165,"n":51},{"k":"p","a":165,"b":175,"n":50},{"k":"p","a":175,"b":185,"n":48},{"k":"p","a":185,"b":195,"n":52},{"k":"p","a":195,"b":205,"n":50},{"k":"p","a":205,"b":215,"n":51},{"k":"p","a":215,"b":225,"n":49},{"k":"p","a":225,"b":235,"n":50},{"k":"p","a":235,"b":245,"n":52},{"k":"p","a":245,"b":255,"n":51},{"k":"p","a":255,"b":265,"n":49},{"k":"p","a":265,"b":275,"n":50},{"k":"p","a":275,"b":285,"n":51},{"k":"p","a":285,"b":295,"n":50},{"k":"p","a":295,"b":305,"n":25},
      {"k":"q","a":20,"b":30,"n":1},{"k":"q","a":30,"b":40,"n":3},{"k":"q","a":40,"b":50,"n":10},{"k":"q","a":50,"b":60,"n":46},{"k":"q","a":60,"b":70,"n":87},{"k":"q","a":70,"b":80,"n":109},{"k":"q","a":80,"b":90,"n":122},{"k":"q","a":90,"b":100,"n":151},{"k":"q","a":100,"b":110,"n":218},{"k":"q","a":110,"b":120,"n":173},{"k":"q","a":120,"b":130,"n":181},{"k":"q","a":130,"b":140,"n":135},{"k":"q","a":140,"b":150,"n":90},{"k":"q","a":150,"b":160,"n":54},{"k":"q","a":160,"b":170,"n":38},{"k":"q","a":170,"b":180,"n":22},{"k":"q","a":180,"b":190,"n":8},{"k":"q","a":190,"b":200,"n":5},{"k":"q","a":200,"b":210,"n":2}
    ],
    "hV1": [
      {"k":"p","a":-0.45,"b":-0.25,"n":50},{"k":"p","a":-0.25,"b":-0.05,"n":50},{"k":"p","a":-0.05,"b":0.15,"n":51},{"k":"p","a":0.15,"b":0.35,"n":49},{"k":"p","a":0.35,"b":0.55,"n":50},{"k":"p","a":0.55,"b":0.75,"n":50},{"k":"p","a":0.75,"b":0.95,"n":51},{"k":"p","a":0.95,"b":1.15,"n":50},{"k":"p","a":1.15,"b":1.35,"n":49},{"k":"p","a":1.35,"b":1.55,"n":50},{"k":"p","a":1.55,"b":1.75,"n":51},{"k":"p","a":1.75,"b":1.95,"n":50},{"k":"p","a":1.95,"b":2.15,"n":23},
      {"k":"q","a":0.15,"b":0.35,"n":3},{"k":"q","a":0.35,"b":0.55,"n":141},{"k":"q","a":0.55,"b":0.75,"n":228},{"k":"q","a":0.75,"b":0.95,"n":153},{"k":"q","a":0.95,"b":1.15,"n":67},{"k":"q","a":1.15,"b":1.35,"n":30},{"k":"q","a":1.35,"b":1.55,"n":12},{"k":"q","a":1.55,"b":1.75,"n":5},{"k":"q","a":1.75,"b":1.95,"n":1}
    ],
    "hV2": [
      {"k":"p","a":-45,"b":-40,"n":24},{"k":"p","a":-40,"b":-35,"n":50},{"k":"p","a":-35,"b":-30,"n":51},{"k":"p","a":-30,"b":-25,"n":50},{"k":"p","a":-25,"b":-20,"n":49},{"k":"p","a":-20,"b":-15,"n":50},{"k":"p","a":-15,"b":-10,"n":52},{"k":"p","a":-10,"b":-5,"n":50},{"k":"p","a":-5,"b":0,"n":50},{"k":"p","a":0,"b":5,"n":49},{"k":"p","a":5,"b":10,"n":51},{"k":"p","a":10,"b":15,"n":50},{"k":"p","a":15,"b":20,"n":50},{"k":"p","a":20,"b":25,"n":51},{"k":"p","a":25,"b":30,"n":49},{"k":"p","a":30,"b":35,"n":50},{"k":"p","a":35,"b":42,"n":24},
      {"k":"q","a":-35,"b":-30,"n":5},{"k":"q","a":-30,"b":-25,"n":17},{"k":"q","a":-25,"b":-20,"n":45},{"k":"q","a":-20,"b":-15,"n":105},{"k":"q","a":-15,"b":-10,"n":167},{"k":"q","a":-10,"b":-5,"n":170},{"k":"q","a":-5,"b":0,"n":142},{"k":"q","a":0,"b":5,"n":86},{"k":"q","a":5,"b":10,"n":24},{"k":"q","a":10,"b":15,"n":3},{"k":"q","a":15,"b":20,"n":1}
    ]
  },
  "title": {"text": "Nest Count", "orient": "left", "anchor": "middle", "offset": 20, "dx": 42},
  "vconcat": [
    {
      "title": {"text": "Year", "orient": "bottom", "anchor": "middle", "offset": 12, "dx": 15},
      "columns": 2,
      "spacing": {"row": 109.5, "column": 100.5},
      "bounds": "flush",
      "concat": [
        {
          "width": 519, "height": 438,
          "resolve": {"scale": {"x": "independent", "y": "independent"}},
          "layer": [
            {
              "encoding": {
                "x": {"field": "x", "type": "quantitative", "scale": {"domain": [1993.28, 2012.72], "nice": false, "zero": false}, "axis": {"values": [1995, 2000, 2005, 2010], "format": "d", "title": null}},
                "y": {"field": "y", "type": "quantitative", "scale": {"domain": [-160, 4160], "nice": false, "zero": false}, "axis": {"values": [0, 1000, 2000, 3000, 4000], "format": "d", "title": null}}
              },
              "layer": [
                {"data": {"name": "eB"}, "mark": {"type": "area", "clip": true, "interpolate": "monotone", "color": "#ececec", "opacity": 1}, "encoding": {"y": {"field": "hi"}, "y2": {"field": "lo"}}},
                {"data": {"name": "lB"}, "transform": [{"filter": "datum.s === 'g'"}, {"flatten": ["x", "y"]}], "mark": {"type": "line", "clip": true, "interpolate": "monotone", "color": "#1a1a1a", "strokeWidth": 1, "opacity": 0.18}, "encoding": {"detail": {"field": "i", "type": "nominal"}}},
                {"data": {"name": "lB"}, "transform": [{"filter": "datum.s === 'b'"}, {"flatten": ["x", "y"]}], "mark": {"type": "line", "clip": true, "interpolate": "monotone", "color": "#3b88df", "strokeWidth": 1.9, "opacity": 0.9}, "encoding": {"detail": {"field": "i", "type": "nominal"}}},
                {"data": {"name": "pB"}, "mark": {"type": "circle", "size": 145, "color": "#000000", "opacity": 1}}
              ]
            },
            {"data": {"values": [{"t": "Biscoe Point"}]}, "mark": {"type": "text", "fontSize": 26, "fontWeight": "bold", "color": "#000000"},
             "encoding": {"x": {"datum": 2006.92, "type": "quantitative", "scale": {"domain": [1993.28, 2012.72], "nice": false, "zero": false}, "axis": null},
                          "y": {"datum": 3862, "type": "quantitative", "scale": {"domain": [-160, 4160], "nice": false, "zero": false}, "axis": null},
                          "text": {"field": "t"}}},
            {
              "layer": [
                {"data": {"name": "hB1"}, "transform": [{"filter": "datum.k === 'p'"}], "mark": {"type": "rect", "color": "#a0a0a0", "opacity": 0.55},
                 "encoding": {"x": {"field": "a", "type": "quantitative", "scale": {"domain": [-0.1268, 3.528], "nice": false, "zero": false}, "axis": null}, "x2": {"field": "b"}, "y": {"field": "n", "type": "quantitative", "scale": {"domain": [-1159.8, 484.2], "nice": false, "zero": false}, "axis": null}, "y2": {"datum": 0}}},
                {"data": {"name": "hB1"}, "transform": [{"filter": "datum.k === 'q'"}], "mark": {"type": "rect", "color": "#0000ff", "opacity": 0.5},
                 "encoding": {"x": {"field": "a", "type": "quantitative", "scale": {"domain": [-0.1268, 3.528], "nice": false, "zero": false}, "axis": null}, "x2": {"field": "b"}, "y": {"field": "n", "type": "quantitative", "scale": {"domain": [-1159.8, 484.2], "nice": false, "zero": false}, "axis": null}, "y2": {"datum": 0}}},
                {"data": {"values": [{"v": 0, "t": "0"}, {"v": 0.5, "t": "0.5"}, {"v": 1, "t": "1"}]}, "mark": {"type": "text", "fontSize": 13, "color": "#5c5c5c", "baseline": "middle"},
                 "encoding": {"x": {"field": "v", "type": "quantitative", "scale": {"domain": [-0.1268, 3.528], "nice": false, "zero": false}, "axis": null}, "y": {"datum": -33.8, "type": "quantitative", "scale": {"domain": [-1159.8, 484.2], "nice": false, "zero": false}, "axis": null}, "text": {"field": "t"}}},
                {"data": {"values": [{"t": "slope"}]}, "mark": {"type": "text", "fontSize": 18, "fontWeight": "bold", "align": "left", "baseline": "middle", "color": "#000000"},
                 "encoding": {"x": {"datum": 0.547, "type": "quantitative", "scale": {"domain": [-0.1268, 3.528], "nice": false, "zero": false}, "axis": null}, "y": {"datum": 404.3, "type": "quantitative", "scale": {"domain": [-1159.8, 484.2], "nice": false, "zero": false}, "axis": null}, "text": {"field": "t"}}}
              ]
            },
            {
              "layer": [
                {"data": {"name": "hB2"}, "transform": [{"filter": "datum.k === 'p'"}], "mark": {"type": "rect", "color": "#a0a0a0", "opacity": 0.55},
                 "encoding": {"x": {"field": "a", "type": "quantitative", "scale": {"domain": [-5.618, 140.17], "nice": false, "zero": false}, "axis": null}, "x2": {"field": "b"}, "y": {"field": "n", "type": "quantitative", "scale": {"domain": [-267.2, 408.2], "nice": false, "zero": false}, "axis": null}, "y2": {"datum": 0}}},
                {"data": {"name": "hB2"}, "transform": [{"filter": "datum.k === 'q'"}], "mark": {"type": "rect", "color": "#0000ff", "opacity": 0.5},
                 "encoding": {"x": {"field": "a", "type": "quantitative", "scale": {"domain": [-5.618, 140.17], "nice": false, "zero": false}, "axis": null}, "x2": {"field": "b"}, "y": {"field": "n", "type": "quantitative", "scale": {"domain": [-267.2, 408.2], "nice": false, "zero": false}, "axis": null}, "y2": {"datum": 0}}},
                {"data": {"values": [{"v": 0, "t": "0"}, {"v": 10, "t": "10"}, {"v": 20, "t": "20"}, {"v": 30, "t": "30"}, {"v": 40, "t": "40"}]}, "mark": {"type": "text", "fontSize": 13, "color": "#5c5c5c", "baseline": "middle"},
                 "encoding": {"x": {"field": "v", "type": "quantitative", "scale": {"domain": [-5.618, 140.17], "nice": false, "zero": false}, "axis": null}, "y": {"datum": -19.4, "type": "quantitative", "scale": {"domain": [-267.2, 408.2], "nice": false, "zero": false}, "axis": null}, "text": {"field": "t"}}},
                {"data": {"values": [{"t": "intercept"}]}, "mark": {"type": "text", "fontSize": 18, "fontWeight": "bold", "align": "left", "baseline": "middle", "color": "#000000"},
                 "encoding": {"x": {"datum": 20.98, "type": "quantitative", "scale": {"domain": [-5.618, 140.17], "nice": false, "zero": false}, "axis": null}, "y": {"datum": 158, "type": "quantitative", "scale": {"domain": [-267.2, 408.2], "nice": false, "zero": false}, "axis": null}, "text": {"field": "t"}}}
              ]
            }
          ]
        },
        {
          "width": 519, "height": 438,
          "resolve": {"scale": {"x": "independent", "y": "independent"}},
          "layer": [
            {
              "encoding": {
                "x": {"field": "x", "type": "quantitative", "scale": {"domain": [1998.32, 2016.68], "nice": false, "zero": false}, "axis": {"values": [2000, 2005, 2010, 2015], "format": "d", "title": null}},
                "y": {"field": "y", "type": "quantitative", "scale": {"domain": [-24, 624], "nice": false, "zero": false}, "axis": {"values": [0, 100, 200, 300, 400, 500, 600], "format": "d", "title": null}}
              },
              "layer": [
                {"data": {"name": "eO"}, "mark": {"type": "area", "clip": true, "interpolate": "monotone", "color": "#ececec", "opacity": 1}, "encoding": {"y": {"field": "hi"}, "y2": {"field": "lo"}}},
                {"data": {"name": "lO"}, "transform": [{"filter": "datum.s === 'g'"}, {"flatten": ["x", "y"]}], "mark": {"type": "line", "clip": true, "interpolate": "monotone", "color": "#1a1a1a", "strokeWidth": 1, "opacity": 0.18}, "encoding": {"detail": {"field": "i", "type": "nominal"}}},
                {"data": {"name": "lO"}, "transform": [{"filter": "datum.s === 'b'"}, {"flatten": ["x", "y"]}], "mark": {"type": "line", "clip": true, "interpolate": "monotone", "color": "#3b88df", "strokeWidth": 2, "opacity": 0.9}, "encoding": {"detail": {"field": "i", "type": "nominal"}}},
                {"data": {"name": "pO"}, "mark": {"type": "circle", "size": 145, "color": "#000000", "opacity": 1}}
              ]
            },
            {"data": {"values": [{"t": "Orne Island"}]}, "mark": {"type": "text", "fontSize": 26, "fontWeight": "bold", "color": "#000000"},
             "encoding": {"x": {"datum": 2012.0, "type": "quantitative", "scale": {"domain": [1998.32, 2016.68], "nice": false, "zero": false}, "axis": null},
                          "y": {"datum": 580.7, "type": "quantitative", "scale": {"domain": [-24, 624], "nice": false, "zero": false}, "axis": null},
                          "text": {"field": "t"}}},
            {
              "layer": [
                {"data": {"name": "hO1"}, "transform": [{"filter": "datum.k === 'p'"}], "mark": {"type": "rect", "color": "#a0a0a0", "opacity": 0.55},
                 "encoding": {"x": {"field": "a", "type": "quantitative", "scale": {"domain": [-0.4498, 4.083], "nice": false, "zero": false}, "axis": null}, "x2": {"field": "b"}, "y": {"field": "n", "type": "quantitative", "scale": {"domain": [-515.7, 229.7], "nice": false, "zero": false}, "axis": null}, "y2": {"datum": 0}}},
                {"data": {"name": "hO1"}, "transform": [{"filter": "datum.k === 'q'"}], "mark": {"type": "rect", "color": "#0000ff", "opacity": 0.5},
                 "encoding": {"x": {"field": "a", "type": "quantitative", "scale": {"domain": [-0.4498, 4.083], "nice": false, "zero": false}, "axis": null}, "x2": {"field": "b"}, "y": {"field": "n", "type": "quantitative", "scale": {"domain": [-515.7, 229.7], "nice": false, "zero": false}, "axis": null}, "y2": {"datum": 0}}},
                {"data": {"values": [{"v": 0, "t": "0.0"}, {"v": 0.4, "t": "0.4"}, {"v": 0.8, "t": "0.8"}]}, "mark": {"type": "text", "fontSize": 13, "color": "#5c5c5c", "baseline": "middle"},
                 "encoding": {"x": {"field": "v", "type": "quantitative", "scale": {"domain": [-0.4498, 4.083], "nice": false, "zero": false}, "axis": null}, "y": {"datum": -16.6, "type": "quantitative", "scale": {"domain": [-515.7, 229.7], "nice": false, "zero": false}, "axis": null}, "text": {"field": "t"}}},
                {"data": {"values": [{"t": "slope"}]}, "mark": {"type": "text", "fontSize": 18, "fontWeight": "bold", "align": "left", "baseline": "middle", "color": "#000000"},
                 "encoding": {"x": {"datum": 0.297, "type": "quantitative", "scale": {"domain": [-0.4498, 4.083], "nice": false, "zero": false}, "axis": null}, "y": {"datum": 193.5, "type": "quantitative", "scale": {"domain": [-515.7, 229.7], "nice": false, "zero": false}, "axis": null}, "text": {"field": "t"}}}
              ]
            },
            {
              "layer": [
                {"data": {"name": "hO2"}, "transform": [{"filter": "datum.k === 'p'"}], "mark": {"type": "rect", "color": "#a0a0a0", "opacity": 0.55},
                 "encoding": {"x": {"field": "a", "type": "quantitative", "scale": {"domain": [-20.99, 177.1], "nice": false, "zero": false}, "axis": null}, "x2": {"field": "b"}, "y": {"field": "n", "type": "quantitative", "scale": {"domain": [-449, 703], "nice": false, "zero": false}, "axis": null}, "y2": {"datum": 0}}},
                {"data": {"name": "hO2"}, "transform": [{"filter": "datum.k === 'q'"}], "mark": {"type": "rect", "color": "#0000ff", "opacity": 0.5},
                 "encoding": {"x": {"field": "a", "type": "quantitative", "scale": {"domain": [-20.99, 177.1], "nice": false, "zero": false}, "axis": null}, "x2": {"field": "b"}, "y": {"field": "n", "type": "quantitative", "scale": {"domain": [-449, 703], "nice": false, "zero": false}, "axis": null}, "y2": {"datum": 0}}},
                {"data": {"values": [{"v": -10, "t": "−10"}, {"v": 10, "t": "10"}, {"v": 30, "t": "30"}]}, "mark": {"type": "text", "fontSize": 13, "color": "#5c5c5c", "baseline": "middle"},
                 "encoding": {"x": {"field": "v", "type": "quantitative", "scale": {"domain": [-20.99, 177.1], "nice": false, "zero": false}, "axis": null}, "y": {"datum": -39.5, "type": "quantitative", "scale": {"domain": [-449, 703], "nice": false, "zero": false}, "axis": null}, "text": {"field": "t"}}},
                {"data": {"values": [{"t": "intercept"}]}, "mark": {"type": "text", "fontSize": 18, "fontWeight": "bold", "align": "left", "baseline": "middle", "color": "#000000"},
                 "encoding": {"x": {"datum": 11.6, "type": "quantitative", "scale": {"domain": [-20.99, 177.1], "nice": false, "zero": false}, "axis": null}, "y": {"datum": 263, "type": "quantitative", "scale": {"domain": [-449, 703], "nice": false, "zero": false}, "axis": null}, "text": {"field": "t"}}}
              ]
            }
          ]
        },
        {
          "width": 519, "height": 438,
          "resolve": {"scale": {"x": "independent", "y": "independent"}},
          "layer": [
            {
              "encoding": {
                "x": {"field": "x", "type": "quantitative", "scale": {"domain": [2004.52, 2017.48], "nice": false, "zero": false}, "axis": {"values": [2006, 2008, 2010, 2012, 2014, 2016], "format": "d", "title": null}},
                "y": {"field": "y", "type": "quantitative", "scale": {"domain": [-40, 1040], "nice": false, "zero": false}, "axis": {"values": [0, 200, 400, 600, 800, 1000], "format": "d", "title": null}}
              },
              "layer": [
                {"data": {"name": "eM"}, "mark": {"type": "area", "clip": true, "interpolate": "linear", "color": "#ececec", "opacity": 1}, "encoding": {"y": {"field": "hi"}, "y2": {"field": "lo"}}},
                {"data": {"name": "lM"}, "transform": [{"filter": "datum.s === 'g'"}, {"flatten": ["x", "y"]}], "mark": {"type": "line", "clip": true, "interpolate": "linear", "color": "#1a1a1a", "strokeWidth": 1, "opacity": 0.18}, "encoding": {"detail": {"field": "i", "type": "nominal"}}},
                {"data": {"name": "lM"}, "transform": [{"filter": "datum.s === 'b'"}, {"flatten": ["x", "y"]}], "mark": {"type": "line", "clip": true, "interpolate": "linear", "color": "#3b88df", "strokeWidth": 1.6, "opacity": 0.9}, "encoding": {"detail": {"field": "i", "type": "nominal"}}},
                {"data": {"name": "pM"}, "mark": {"type": "circle", "size": 145, "color": "#000000", "opacity": 1}}
              ]
            },
            {"data": {"values": [{"t": "Moot Point"}]}, "mark": {"type": "text", "fontSize": 26, "fontWeight": "bold", "color": "#000000"},
             "encoding": {"x": {"datum": 2014.15, "type": "quantitative", "scale": {"domain": [2004.52, 2017.48], "nice": false, "zero": false}, "axis": null},
                          "y": {"datum": 965, "type": "quantitative", "scale": {"domain": [-40, 1040], "nice": false, "zero": false}, "axis": null},
                          "text": {"field": "t"}}},
            {
              "layer": [
                {"data": {"name": "hM1"}, "transform": [{"filter": "datum.k === 'p'"}], "mark": {"type": "rect", "color": "#a0a0a0", "opacity": 0.55},
                 "encoding": {"x": {"field": "a", "type": "quantitative", "scale": {"domain": [-1.242, 6.083], "nice": false, "zero": false}, "axis": null}, "x2": {"field": "b"}, "y": {"field": "n", "type": "quantitative", "scale": {"domain": [-852, 343.3], "nice": false, "zero": false}, "axis": null}, "y2": {"datum": 0}}},
                {"data": {"name": "hM1"}, "transform": [{"filter": "datum.k === 'q'"}], "mark": {"type": "rect", "color": "#0000ff", "opacity": 0.5},
                 "encoding": {"x": {"field": "a", "type": "quantitative", "scale": {"domain": [-1.242, 6.083], "nice": false, "zero": false}, "axis": null}, "x2": {"field": "b"}, "y": {"field": "n", "type": "quantitative", "scale": {"domain": [-852, 343.3], "nice": false, "zero": false}, "axis": null}, "y2": {"datum": 0}}},
                {"data": {"values": [{"v": -1, "t": "−1"}, {"v": 0, "t": "0"}, {"v": 1, "t": "1"}]}, "mark": {"type": "text", "fontSize": 13, "color": "#5c5c5c", "baseline": "middle"},
                 "encoding": {"x": {"field": "v", "type": "quantitative", "scale": {"domain": [-1.242, 6.083], "nice": false, "zero": false}, "axis": null}, "y": {"datum": -24.6, "type": "quantitative", "scale": {"domain": [-852, 343.3], "nice": false, "zero": false}, "axis": null}, "text": {"field": "t"}}},
                {"data": {"values": [{"t": "slope"}]}, "mark": {"type": "text", "fontSize": 18, "fontWeight": "bold", "align": "left", "baseline": "middle", "color": "#000000"},
                 "encoding": {"x": {"datum": 0.179, "type": "quantitative", "scale": {"domain": [-1.242, 6.083], "nice": false, "zero": false}, "axis": null}, "y": {"datum": 266.3, "type": "quantitative", "scale": {"domain": [-852, 343.3], "nice": false, "zero": false}, "axis": null}, "text": {"field": "t"}}}
              ]
            },
            {
              "layer": [
                {"data": {"name": "hM2"}, "transform": [{"filter": "datum.k === 'p'"}], "mark": {"type": "rect", "color": "#a0a0a0", "opacity": 0.55},
                 "encoding": {"x": {"field": "a", "type": "quantitative", "scale": {"domain": [-48.0, 1068.8], "nice": false, "zero": false}, "axis": null}, "x2": {"field": "b"}, "y": {"field": "n", "type": "quantitative", "scale": {"domain": [-342.8, 499.9], "nice": false, "zero": false}, "axis": null}, "y2": {"datum": 0}}},
                {"data": {"name": "hM2"}, "transform": [{"filter": "datum.k === 'q'"}], "mark": {"type": "rect", "color": "#0000ff", "opacity": 0.5},
                 "encoding": {"x": {"field": "a", "type": "quantitative", "scale": {"domain": [-48.0, 1068.8], "nice": false, "zero": false}, "axis": null}, "x2": {"field": "b"}, "y": {"field": "n", "type": "quantitative", "scale": {"domain": [-342.8, 499.9], "nice": false, "zero": false}, "axis": null}, "y2": {"datum": 0}}},
                {"data": {"values": [{"v": 0, "t": "0"}, {"v": 100, "t": "100"}, {"v": 200, "t": "200"}, {"v": 300, "t": "300"}]}, "mark": {"type": "text", "fontSize": 13, "color": "#5c5c5c", "baseline": "middle"},
                 "encoding": {"x": {"field": "v", "type": "quantitative", "scale": {"domain": [-48.0, 1068.8], "nice": false, "zero": false}, "axis": null}, "y": {"datum": -20.5, "type": "quantitative", "scale": {"domain": [-342.8, 499.9], "nice": false, "zero": false}, "axis": null}, "text": {"field": "t"}}},
                {"data": {"values": [{"t": "intercept"}]}, "mark": {"type": "text", "fontSize": 18, "fontWeight": "bold", "align": "left", "baseline": "middle", "color": "#000000"},
                 "encoding": {"x": {"datum": 152.8, "type": "quantitative", "scale": {"domain": [-48.0, 1068.8], "nice": false, "zero": false}, "axis": null}, "y": {"datum": 178.2, "type": "quantitative", "scale": {"domain": [-342.8, 499.9], "nice": false, "zero": false}, "axis": null}, "text": {"field": "t"}}}
              ]
            }
          ]
        },
        {
          "width": 519, "height": 438,
          "resolve": {"scale": {"x": "independent", "y": "independent"}},
          "layer": [
            {
              "encoding": {
                "x": {"field": "x", "type": "quantitative", "scale": {"domain": [2006.56, 2018.44], "nice": false, "zero": false}, "axis": {"values": [2008, 2010, 2012, 2014, 2016, 2018], "format": "d", "title": null}},
                "y": {"field": "y", "type": "quantitative", "scale": {"domain": [-20, 520], "nice": false, "zero": false}, "axis": {"values": [0, 100, 200, 300, 400, 500], "format": "d", "title": null}}
              },
              "layer": [
                {"data": {"name": "eV"}, "mark": {"type": "area", "clip": true, "interpolate": "linear", "color": "#ececec", "opacity": 1}, "encoding": {"y": {"field": "hi"}, "y2": {"field": "lo"}}},
                {"data": {"name": "lV"}, "transform": [{"filter": "datum.s === 'g'"}, {"flatten": ["x", "y"]}], "mark": {"type": "line", "clip": true, "interpolate": "linear", "color": "#1a1a1a", "strokeWidth": 1, "opacity": 0.18}, "encoding": {"detail": {"field": "i", "type": "nominal"}}},
                {"data": {"name": "lV"}, "transform": [{"filter": "datum.s === 'b'"}, {"flatten": ["x", "y"]}], "mark": {"type": "line", "clip": true, "interpolate": "monotone", "color": "#3b88df", "strokeWidth": 2, "opacity": 0.9}, "encoding": {"detail": {"field": "i", "type": "nominal"}}},
                {"data": {"name": "pV"}, "mark": {"type": "circle", "size": 145, "color": "#000000", "opacity": 1}}
              ]
            },
            {"data": {"values": [{"t": "Vernadsky Station"}]}, "mark": {"type": "text", "fontSize": 26, "fontWeight": "bold", "color": "#000000"},
             "encoding": {"x": {"datum": 2014.42, "type": "quantitative", "scale": {"domain": [2006.56, 2018.44], "nice": false, "zero": false}, "axis": null},
                          "y": {"datum": 484, "type": "quantitative", "scale": {"domain": [-20, 520], "nice": false, "zero": false}, "axis": null},
                          "text": {"field": "t"}}},
            {
              "layer": [
                {"data": {"name": "hV1"}, "transform": [{"filter": "datum.k === 'p'"}], "mark": {"type": "rect", "color": "#a0a0a0", "opacity": 0.55},
                 "encoding": {"x": {"field": "a", "type": "quantitative", "scale": {"domain": [-0.709, 8.449], "nice": false, "zero": false}, "axis": null}, "x2": {"field": "b"}, "y": {"field": "n", "type": "quantitative", "scale": {"domain": [-629.6, 246.4], "nice": false, "zero": false}, "axis": null}, "y2": {"datum": 0}}},
                {"data": {"name": "hV1"}, "transform": [{"filter": "datum.k === 'q'"}], "mark": {"type": "rect", "color": "#0000ff", "opacity": 0.5},
                 "encoding": {"x": {"field": "a", "type": "quantitative", "scale": {"domain": [-0.709, 8.449], "nice": false, "zero": false}, "axis": null}, "x2": {"field": "b"}, "y": {"field": "n", "type": "quantitative", "scale": {"domain": [-629.6, 246.4], "nice": false, "zero": false}, "axis": null}, "y2": {"datum": 0}}},
                {"data": {"values": [{"v": 0, "t": "0"}, {"v": 1, "t": "1"}, {"v": 2, "t": "2"}]}, "mark": {"type": "text", "fontSize": 13, "color": "#5c5c5c", "baseline": "middle"},
                 "encoding": {"x": {"field": "v", "type": "quantitative", "scale": {"domain": [-0.709, 8.449], "nice": false, "zero": false}, "axis": null}, "y": {"datum": -20, "type": "quantitative", "scale": {"domain": [-629.6, 246.4], "nice": false, "zero": false}, "axis": null}, "text": {"field": "t"}}},
                {"data": {"values": [{"t": "slope"}]}, "mark": {"type": "text", "fontSize": 18, "fontWeight": "bold", "align": "left", "baseline": "middle", "color": "#000000"},
                 "encoding": {"x": {"datum": 1.165, "type": "quantitative", "scale": {"domain": [-0.709, 8.449], "nice": false, "zero": false}, "axis": null}, "y": {"datum": 201.4, "type": "quantitative", "scale": {"domain": [-629.6, 246.4], "nice": false, "zero": false}, "axis": null}, "text": {"field": "t"}}}
              ]
            },
            {
              "layer": [
                {"data": {"name": "hV2"}, "transform": [{"filter": "datum.k === 'p'"}], "mark": {"type": "rect", "color": "#a0a0a0", "opacity": 0.55},
                 "encoding": {"x": {"field": "a", "type": "quantitative", "scale": {"domain": [-54.6, 248.5], "nice": false, "zero": false}, "axis": null}, "x2": {"field": "b"}, "y": {"field": "n", "type": "quantitative", "scale": {"domain": [-283.8, 407.6], "nice": false, "zero": false}, "axis": null}, "y2": {"datum": 0}}},
                {"data": {"name": "hV2"}, "transform": [{"filter": "datum.k === 'q'"}], "mark": {"type": "rect", "color": "#0000ff", "opacity": 0.5},
                 "encoding": {"x": {"field": "a", "type": "quantitative", "scale": {"domain": [-54.6, 248.5], "nice": false, "zero": false}, "axis": null}, "x2": {"field": "b"}, "y": {"field": "n", "type": "quantitative", "scale": {"domain": [-283.8, 407.6], "nice": false, "zero": false}, "axis": null}, "y2": {"datum": 0}}},
                {"data": {"values": [{"v": -25, "t": "−25"}, {"v": 0, "t": "0"}, {"v": 25, "t": "25"}]}, "mark": {"type": "text", "fontSize": 13, "color": "#5c5c5c", "baseline": "middle"},
                 "encoding": {"x": {"field": "v", "type": "quantitative", "scale": {"domain": [-54.6, 248.5], "nice": false, "zero": false}, "axis": null}, "y": {"datum": -17.4, "type": "quantitative", "scale": {"domain": [-283.8, 407.6], "nice": false, "zero": false}, "axis": null}, "text": {"field": "t"}}},
                {"data": {"values": [{"t": "intercept"}]}, "mark": {"type": "text", "fontSize": 18, "fontWeight": "bold", "align": "left", "baseline": "middle", "color": "#000000"},
                 "encoding": {"x": {"datum": 10.9, "type": "quantitative", "scale": {"domain": [-54.6, 248.5], "nice": false, "zero": false}, "axis": null}, "y": {"datum": 150, "type": "quantitative", "scale": {"domain": [-283.8, 407.6], "nice": false, "zero": false}, "axis": null}, "text": {"field": "t"}}}
              ]
            }
          ]
        }
      ]
    }
  ]
}
